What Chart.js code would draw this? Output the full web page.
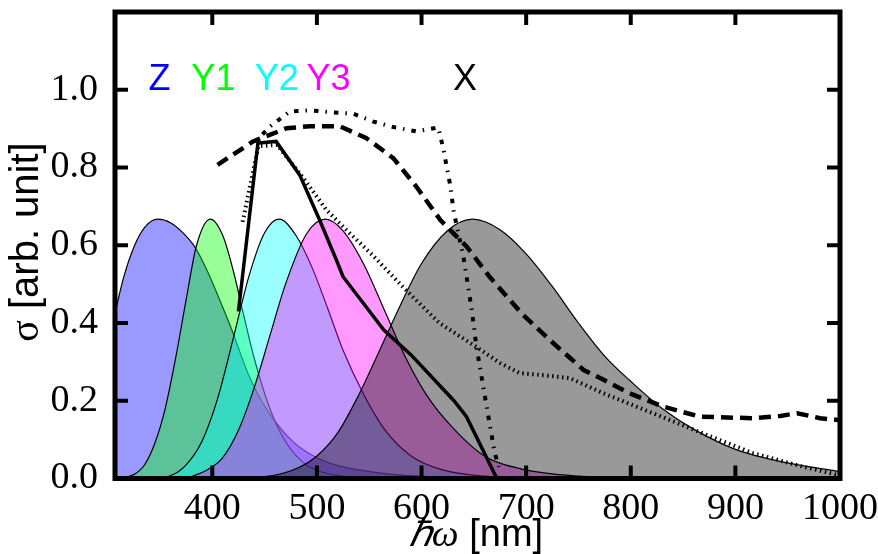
<!DOCTYPE html>
<html>
<head>
<meta charset="utf-8">
<script src="https://cdn.jsdelivr.net/npm/chart.js@4.4.1/dist/chart.umd.min.js"></script>
<style>
  html, body { margin: 0; padding: 0; background: #fff; }
  #wrap { width: 878px; height: 554px; position: relative; }
</style>
</head>
<body>
<div id="wrap"><canvas id="dash"></canvas></div>
<script>
// axis ticks
const xTicks = [400, 500, 600, 700, 800, 900, 1000];
const yTicks = [0, 0.2, 0.4, 0.6, 0.8, 1.0];

// filled bands (wavelength nm / sigma)
const zNm  = [307, 315, 325, 335, 348, 360, 372, 383, 395, 407, 418, 434, 447, 462, 477, 492, 512, 540, 575, 620, 680, 760];
const zVal = [0.425, 0.515, 0.595, 0.645, 0.667, 0.658, 0.632, 0.597, 0.535, 0.46, 0.387, 0.271, 0.2, 0.14, 0.095, 0.065, 0.04, 0.022, 0.01, 0.004, 0.001, 0];

const y1Nm  = [312, 325, 335, 345, 355, 365, 375, 385, 398, 410, 420, 430, 440, 455, 470, 490, 515, 545, 590];
const y1Val = [0, 0.01, 0.034, 0.09, 0.18, 0.31, 0.46, 0.6, 0.667, 0.625, 0.535, 0.42, 0.31, 0.18, 0.095, 0.035, 0.01, 0.002, 0];

const y2Nm  = [340, 360, 375, 390, 405, 420, 435, 450, 464, 480, 495, 510, 525, 545, 565, 590, 620, 660, 720];
const y2Val = [0, 0.007, 0.035, 0.095, 0.205, 0.36, 0.52, 0.632, 0.667, 0.625, 0.545, 0.44, 0.33, 0.215, 0.125, 0.058, 0.022, 0.006, 0.001];

const y3Nm  = [380, 395, 410, 425, 440, 455, 470, 490, 508, 525, 545, 565, 585, 605, 630, 660, 700, 750, 820];
const y3Val = [0.005, 0.022, 0.054, 0.124, 0.233, 0.367, 0.5, 0.629, 0.667, 0.637, 0.55, 0.43, 0.31, 0.214, 0.13, 0.058, 0.022, 0.006, 0.001];

const xNm  = [400, 450, 480, 500, 520, 540, 560, 580, 600, 625, 649, 675, 700, 725, 750, 775, 800, 830, 860, 900, 950, 1000];
const xVal = [0.001, 0.005, 0.025, 0.058, 0.118, 0.215, 0.33, 0.447, 0.553, 0.638, 0.667, 0.64, 0.578, 0.494, 0.4, 0.315, 0.25, 0.18, 0.127, 0.075, 0.04, 0.018];

// black curves
const solidNm  = [425, 443.6, 461, 483.5, 502.6, 518.6, 525, 564, 590, 631, 643, 672];
const solidVal = [0.43, 0.863, 0.867, 0.781, 0.665, 0.562, 0.519, 0.382, 0.318, 0.2, 0.159, 0.0];

const dotNm  = [429, 444, 462, 487, 509, 531, 553, 585, 617, 652, 675, 694, 720, 742, 774, 821, 869, 917, 965, 1000];
const dotVal = [0.66, 0.855, 0.858, 0.773, 0.691, 0.632, 0.575, 0.485, 0.40, 0.339, 0.297, 0.271, 0.265, 0.258, 0.219, 0.168, 0.116, 0.065, 0.03, 0.008];

const dashNm  = [405, 439, 471, 493, 522, 547, 573, 595, 618, 643, 665, 697, 726, 755, 774, 799, 831, 866, 917, 943, 959, 981, 1000];
const dashVal = [0.807, 0.867, 0.901, 0.906, 0.906, 0.876, 0.824, 0.751, 0.665, 0.597, 0.519, 0.421, 0.348, 0.279, 0.254, 0.219, 0.185, 0.159, 0.155, 0.161, 0.168, 0.155, 0.15];

const ddNm  = [448, 455, 474, 493, 515, 535, 554, 573, 595, 616, 621, 627, 631, 640, 648, 652.5, 659, 665, 670, 674];
const ddVal = [0.885, 0.905, 0.944, 0.947, 0.942, 0.938, 0.918, 0.904, 0.893, 0.903, 0.846, 0.76, 0.683, 0.571, 0.434, 0.339, 0.236, 0.142, 0.065, 0.03];

// band names written above the curves
const bandNames  = ['Z', 'Y1', 'Y2', 'Y3', 'X'];
const bandColors = ['#0000ff', '#00ff00', '#00ffff', '#ff00ff', '#000000'];
const bandNameNm = [339, 380, 440.5, 490, 630];

const pts = (xs, ys) => xs.map((v, i) => ({ x: v, y: ys[i] }));

const band = (xs, ys, color, order) => ({
  data: pts(xs, ys),
  backgroundColor: color,
  borderColor: "#000",
  borderWidth: 1.2,
  fill: "origin",
  pointRadius: 0,
  cubicInterpolationMode: "monotone",
  order: order,
});

const curve = (xs, ys, width, dash, tension) => ({
  data: pts(xs, ys),
  borderColor: "#000",
  borderWidth: width,
  borderDash: dash,
  fill: false,
  pointRadius: 0,
  tension: tension,
  order: 0,
});

const frame = {
  id: "frame",
  afterDraw(chart) {
    const { ctx, chartArea: a, scales: { x, y } } = chart;
    ctx.save();
    ctx.strokeStyle = "#000";
    ctx.lineWidth = 4;
    ctx.beginPath();
    xTicks.forEach(v => {
      const px = x.getPixelForValue(v);
      ctx.moveTo(px, a.bottom); ctx.lineTo(px, a.bottom - 13);
      ctx.moveTo(px, a.top); ctx.lineTo(px, a.top + 13);
    });
    yTicks.forEach(v => {
      const py = y.getPixelForValue(v);
      ctx.moveTo(a.left, py); ctx.lineTo(a.left + 13, py);
      ctx.moveTo(a.right, py); ctx.lineTo(a.right - 13, py);
    });
    ctx.stroke();
    ctx.lineWidth = 5;
    ctx.strokeRect(a.left, a.top, a.right - a.left, a.bottom - a.top);

    // band names
    ctx.font = "36px 'Liberation Sans'";
    ctx.textAlign = "left";
    ctx.textBaseline = "alphabetic";
    bandNames.forEach((n, i) => {
      ctx.fillStyle = bandColors[i];
      ctx.fillText(n, x.getPixelForValue(bandNameNm[i]), y.getPixelForValue(1.0));
    });

    // x title: hbar omega [nm]
    ctx.fillStyle = "#000";
    const f1 = "italic 38px 'Liberation Serif'", f2 = "38px 'Liberation Sans'";
    const t1 = "ℏω", t2 = " [nm]";
    ctx.font = f1; const w1 = ctx.measureText(t1).width;
    ctx.font = f2; const w2 = ctx.measureText(t2).width;
    let sx = 476 - (w1 + w2) / 2;
    ctx.font = f1; ctx.fillText(t1, sx, 546);
    ctx.font = f2; ctx.fillText(t2, sx + w1, 546);

    // y title: sigma [arb. unit]
    const s1 = "σ", s2 = " [arb. unit]";
    const g1 = "40px 'Liberation Serif'", g2 = "40px 'Liberation Sans'";
    ctx.font = g1; const v1 = ctx.measureText(s1).width;
    ctx.font = g2; const v2 = ctx.measureText(s2).width;
    ctx.translate(38, 242);
    ctx.rotate(-Math.PI / 2);
    sx = -(v1 + v2) / 2;
    ctx.font = g1; ctx.fillText(s1, sx, 0);
    ctx.font = g2; ctx.fillText(s2, sx + v1, 0);
    ctx.restore();
  },
};

new Chart(document.getElementById("dash"), {
  type: "line",
  data: {
    datasets: [
      curve(solidNm, solidVal, 3.5, [], 0),
      curve(dotNm, dotVal, 4, [1.5, 3.5], 0),
      curve(dashNm, dashVal, 4.5, [12, 7], 0),
      curve(ddNm, ddVal, 4, [4.5, 7, 1.5, 7], 0),
      band(xNm, xVal, "rgba(0,0,0,0.4)", 1),
      band(y3Nm, y3Val, "rgba(255,0,255,0.4)", 2),
      band(y2Nm, y2Val, "rgba(0,255,255,0.4)", 3),
      band(y1Nm, y1Val, "rgba(0,255,0,0.4)", 4),
      band(zNm, zVal, "rgba(0,0,255,0.4)", 5),
    ],
  },
  options: {
    responsive: true,
    maintainAspectRatio: false,
    animation: false,
    layout: { padding: { left: 0, top: 12, right: 38, bottom: 0 } },
    plugins: { legend: { display: false }, tooltip: { enabled: false } },
    scales: {
      x: {
        type: "linear",
        min: 307,
        max: 1000,
        grid: { display: false },
        border: { display: false },
        afterBuildTicks: s => { s.ticks = xTicks.map(v => ({ value: v })); },
        afterFit: s => { s.height = 75.5; s.paddingLeft = 0; s.paddingRight = 0; },
        ticks: {
          padding: 0,
          color: "#000",
          maxRotation: 0,
          autoSkip: false,
          font: { family: "Liberation Serif", size: 38 },
          callback: v => String(v),
        },
      },
      y: {
        min: 0,
        max: 1.2,
        grid: { display: false },
        border: { display: false },
        afterBuildTicks: s => { s.ticks = yTicks.map(v => ({ value: v })); },
        afterFit: s => { s.width = 115; s.paddingTop = 0; s.paddingBottom = 0; },
        ticks: {
          padding: 9,
          color: "#000",
          autoSkip: false,
          font: { family: "Liberation Serif", size: 38 },
          callback: v => v.toFixed(1),
        },
      },
    },
  },
  plugins: [frame],
});
</script>
</body>
</html>
